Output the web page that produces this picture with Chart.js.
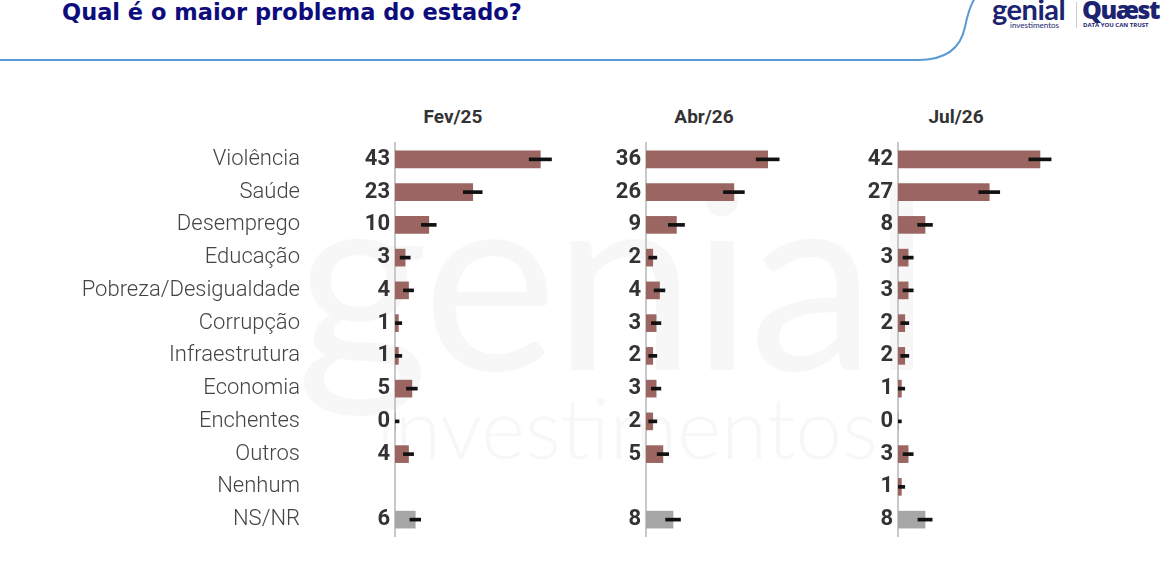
<!DOCTYPE html>
<html>
<head>
<meta charset="utf-8">
<title>Qual é o maior problema do estado?</title>
<script src="https://cdn.jsdelivr.net/npm/chart.js@4.4.0/dist/chart.umd.min.js"></script>
<style>
  body { margin: 0; background: #fff; }
  #page { position: relative; width: 1162px; height: 568px; overflow: hidden; background: #fff; font-family: Roboto, sans-serif; }
  .abs { position: absolute; }
  .title { left: 62px; top: -1px; font: 700 22.5px "DejaVu Sans", sans-serif; color: #0c0c7c; white-space: nowrap; }
  .wm1 { left: 296px; top: 118px; font: 400 255px Lato, sans-serif; color: #f7f7f7; letter-spacing: -4px; }
  .wm2 { left: 376px; top: 376px; font: 300 84px Lato, sans-serif; color: #f7f7f7; }
  .hdr { top: 105px; width: 120px; text-align: center; font: 700 19px Roboto, sans-serif; color: #333; }
  canvas { position: absolute; top: 100px; }
  .logo1 { left: 992px; top: -9px; font: 700 29px Lato, sans-serif; color: #1c2470; letter-spacing: -0.5px; }
  .logo1s { left: 1010px; top: 20px; font: 400 8px Lato, sans-serif; color: #1c2470; }
  .logo2 { left: 1082px; top: -8px; font: 900 25px "Open Sans", sans-serif; color: #1c2470; letter-spacing: -1.5px; }
  .logo2s { left: 1083px; top: 21px; font: 700 6px "Open Sans", sans-serif; color: #1c2470; }
  .sep { left: 1076px; top: 2px; width: 1px; height: 26px; background: #ccc; }
</style>
</head>
<body>
<div id="page">
  <svg class="abs" style="left:0;top:0" width="1162" height="80">
    <path d="M0 60 H918 C948 60 961 47 965 27 C968 12 971 4 975 -2" fill="none" stroke="#5b9bd5" stroke-width="2"/>
  </svg>
  <div class="abs title">Qual é o maior problema do estado?</div>
  <div class="abs logo1">genial</div>
  <div class="abs logo1s">investimentos</div>
  <div class="abs sep"></div>
  <div class="abs logo2">Quæst</div>
  <div class="abs logo2s">DATA YOU CAN TRUST</div>
  <div class="abs wm1">genial</div>
  <div class="abs wm2">investimentos</div>
  <div class="abs hdr" id="h1" style="left:393px"></div>
  <div class="abs hdr" id="h2" style="left:644px"></div>
  <div class="abs hdr" id="h3" style="left:896px"></div>
  <canvas id="p1" width="564" height="470" style="left:0px"></canvas>
  <canvas id="p2" width="250" height="470" style="left:565px"></canvas>
  <canvas id="p3" width="252" height="470" style="left:815px"></canvas>
</div>
<script>
const categories = ['Violência', 'Saúde', 'Desemprego', 'Educação', 'Pobreza/Desigualdade', 'Corrupção',
  'Infraestrutura', 'Economia', 'Enchentes', 'Outros', 'Nenhum', 'NS/NR'];
const periods = ['Fev/25', 'Abr/26', 'Jul/26'];

const fev25 = [43, 23, 10, 3, 4, 1, 1, 5, 0, 4, null, 6];
const abr26 = [36, 26, 9, 2, 4, 3, 2, 3, 2, 5, null, 8];
const jul26 = [42, 27, 8, 3, 3, 2, 2, 1, 0, 3, 1, 8];

const fev25Err = [3.3, 2.8, 2.2, 1.5, 1.5, 1.0, 1.0, 1.6, 1.2, 1.5, null, 1.6];
const abr26Err = [3.4, 3.1, 2.4, 1.2, 1.6, 1.4, 1.2, 1.4, 1.2, 1.7, null, 2.2];
const jul26Err = [3.3, 3.1, 2.2, 1.5, 1.5, 1.2, 1.2, 1.0, 1.0, 1.5, 1.0, 2.1];

const BROWN = '#9b6662';
const GREY = '#a6a6a6';

['h1', 'h2', 'h3'].forEach((id, i) => { document.getElementById(id).textContent = periods[i]; });

function makePanel(id, vals, errs, yWidth, withCats) {
  const colors = categories.map(c => c === 'NS/NR' ? GREY : BROWN);
  const errRange = vals.map((v, i) => v == null ? null : [v - errs[i], v + errs[i]]);

  const scales = {
    x: { type: 'linear', min: 0, max: 50, display: false },
    y: {
      type: 'category',
      position: 'left',
      weight: 0,
      grid: { display: false, drawTicks: false },
      border: { display: true, color: '#c8c8c8', width: 2 },
      ticks: {
        autoSkip: false,
        padding: 5,
        color: '#333',
        font: { family: 'Roboto', weight: 'bold', size: 22 },
        callback: (v, i) => vals[i] == null ? '' : String(vals[i])
      },
      afterFit: s => { s.width = yWidth; }
    }
  };
  if (withCats) {
    scales.cat = {
      type: 'category',
      position: 'left',
      weight: 1,
      offset: true,
      grid: { display: false, drawTicks: false },
      border: { display: false },
      ticks: {
        autoSkip: false,
        padding: 15,
        color: '#444',
        font: { family: 'Roboto', weight: 300, size: 22 }
      },
      afterFit: s => { s.width = 315; }
    };
  }

  new Chart(document.getElementById(id), {
    type: 'bar',
    data: {
      labels: categories,
      datasets: [
        {
          label: 'erro',
          data: errRange,
          backgroundColor: '#111',
          barThickness: 3,
          grouped: false,
          order: 0
        },
        {
          label: 'valor',
          data: vals,
          backgroundColor: colors,
          barThickness: 17,
          grouped: false,
          order: 1
        }
      ]
    },
    options: {
      indexAxis: 'y',
      responsive: false,
      animation: false,
      layout: { padding: { top: 43, bottom: 34, left: 0, right: 0 } },
      plugins: { legend: { display: false }, tooltip: { enabled: false } },
      scales: scales
    }
  });
}

makePanel('p1', fev25, fev25Err, 80, true);
makePanel('p2', abr26, abr26Err, 81, false);
makePanel('p3', jul26, jul26Err, 83, false);
</script>
</body>
</html>
